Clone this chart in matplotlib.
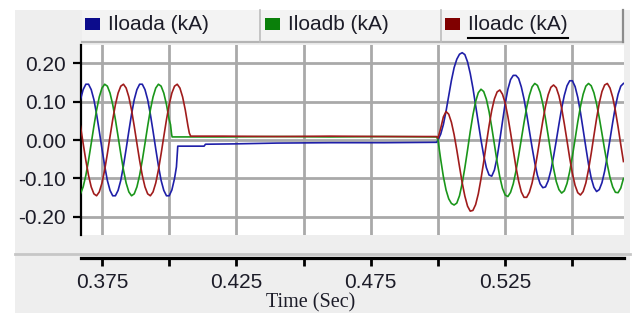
import numpy as np
import matplotlib
matplotlib.use("Agg")
import matplotlib.pyplot as plt
from matplotlib.patches import Rectangle
from matplotlib.lines import Line2D

plt.rcParams['font.family'] = ['Liberation Sans', 'DejaVu Sans']
plt.rcParams['axes.unicode_minus'] = False

# ---- data (kA) ----
series_names = ["Iloada (kA)", "Iloadb (kA)", "Iloadc (kA)"]

# before the breaker opens, 1 ms samples from 0.367 s to 0.400 s
t_pre = np.round(np.arange(0.367, 0.4005, 0.001), 3)
ia_pre = [0.105, 0.131, 0.145, 0.145, 0.131, 0.105, 0.067, 0.023, -0.023, -0.067,
          -0.105, -0.131, -0.145, -0.145, -0.131, -0.105, -0.067, -0.023, 0.023, 0.067,
          0.105, 0.131, 0.145, 0.145, 0.131, 0.105, 0.067, 0.023, -0.023, -0.067,
          -0.105, -0.131, -0.145, -0.145]
ib_pre = [-0.140, -0.122, -0.092, -0.053, -0.009, 0.036, 0.078, 0.112, 0.135, 0.145,
          0.140, 0.122, 0.092, 0.053, 0.009, -0.036, -0.078, -0.112, -0.135, -0.145,
          -0.140, -0.122, -0.092, -0.053, -0.009, 0.036, 0.078, 0.112, 0.135, 0.145,
          0.140, 0.122, 0.092, 0.053]
ic_pre = [0.036, -0.009, -0.053, -0.092, -0.122, -0.140, -0.145, -0.135, -0.112, -0.078,
          -0.036, 0.009, 0.053, 0.092, 0.122, 0.140, 0.145, 0.135, 0.112, 0.078,
          0.036, -0.009, -0.053, -0.092, -0.122, -0.140, -0.145, -0.135, -0.112, -0.078,
          -0.036, 0.009, 0.053, 0.092]

# open period
ia_mid_t = [0.401, 0.402, 0.4027, 0.4032, 0.4130, 0.4135, 0.425, 0.440, 0.460, 0.480, 0.4995]
ia_mid = [-0.130, -0.100, -0.070, -0.016, -0.016, -0.011, -0.010, -0.008, -0.007, -0.007, -0.006]
ib_mid_t = [0.4005, 0.4009, 0.4011, 0.420, 0.440, 0.460, 0.480, 0.4995]
ib_mid = [0.040, 0.015, 0.008, 0.008, 0.009, 0.008, 0.009, 0.008]
ic_mid_t = [0.401, 0.402, 0.403, 0.404, 0.405, 0.406, 0.407, 0.4075, 0.408,
            0.420, 0.440, 0.460, 0.480, 0.4995]
ic_mid = [0.122, 0.140, 0.145, 0.135, 0.112, 0.078, 0.036, 0.018, 0.010,
          0.010, 0.009, 0.010, 0.009, 0.009]

# after reclosing, 1 ms samples from 0.500 s to 0.569 s
t_post = np.round(np.arange(0.500, 0.5695, 0.001), 3)
ia_post = [0.000, 0.015, 0.040, 0.075, 0.115, 0.155, 0.188, 0.210, 0.223, 0.227,
           0.222, 0.203, 0.173, 0.135, 0.090, 0.045, 0.000, -0.040, -0.072, -0.091,
           -0.094, -0.078, -0.045, 0.000, 0.048, 0.095, 0.132, 0.157, 0.168, 0.168,
           0.160, 0.138, 0.107, 0.067, 0.024, -0.019, -0.059, -0.092, -0.114, -0.124,
           -0.122, -0.106, -0.079, -0.043, -0.002, 0.041, 0.082, 0.116, 0.141, 0.154,
           0.154, 0.139, 0.111, 0.072, 0.027, -0.019, -0.063, -0.099, -0.123, -0.134,
           -0.129, -0.111, -0.081, -0.042, 0.002, 0.046, 0.087, 0.119, 0.140, 0.147]
ib_post = [0.000, -0.050, -0.095, -0.130, -0.153, -0.165, -0.169, -0.164, -0.145, -0.113,
           -0.072, -0.026, 0.022, 0.065, 0.100, 0.123, 0.132, 0.126, 0.106, 0.074,
           0.033, -0.012, -0.057, -0.096, -0.126, -0.143, -0.147, -0.136, -0.114, -0.081,
           -0.041, 0.002, 0.045, 0.085, 0.116, 0.138, 0.147, 0.142, 0.124, 0.094,
           0.055, 0.011, -0.034, -0.074, -0.108, -0.129, -0.138, -0.132, -0.113, -0.082,
           -0.042, 0.002, 0.047, 0.087, 0.119, 0.140, 0.147, 0.141, 0.123, 0.094,
           0.058, 0.017, -0.025, -0.064, -0.098, -0.122, -0.136, -0.137, -0.125, -0.100]
ic_post = [0.005, 0.030, 0.060, 0.074, 0.067, 0.046, 0.014, -0.026, -0.069, -0.111,
           -0.146, -0.172, -0.185, -0.183, -0.168, -0.140, -0.101, -0.057, -0.009, 0.037,
           0.077, 0.107, 0.125, 0.130, 0.119, 0.096, 0.061, 0.019, -0.026, -0.070,
           -0.107, -0.135, -0.149, -0.149, -0.136, -0.112, -0.078, -0.037, 0.007, 0.050,
           0.088, 0.118, 0.137, 0.143, 0.136, 0.115, 0.083, 0.042, -0.002, -0.047,
           -0.087, -0.118, -0.137, -0.143, -0.134, -0.112, -0.077, -0.035, 0.011, 0.056,
           0.096, 0.126, 0.143, 0.147, 0.135, 0.111, 0.076, 0.034, -0.012, -0.056]

y_ticks = [-0.20, -0.10, 0.00, 0.10, 0.20]
y_tick_labels = ["-0.20", "-0.10", "0.00", "0.10", "0.20"]
x_ticks = [0.375, 0.400, 0.425, 0.450, 0.475, 0.500, 0.525, 0.550]
x_tick_labels = ["0.375", "", "0.425", "", "0.475", "", "0.525", ""]

# ---- layout helpers (pixel -> figure fraction, y measured from top) ----
W, H = 635, 313
def fx(px):
    return px / W
def fy(py):
    return 1 - py / H

line_colors = ['#1f1fa8', '#1a961a', '#a01c1c']
key_colors = ['#0c0c8c', '#0a800a', '#800000']
text_color = '#1c1c28'

fig = plt.figure(figsize=(W / 100, H / 100), dpi=100)
fig.patch.set_facecolor('white')

# gray panel behind everything
fig.add_artist(Rectangle((fx(15), 0), fx(630) - fx(15), fy(10), transform=fig.transFigure,
                         facecolor='#eeeeee', edgecolor='none', zorder=-10))

ax = fig.add_axes([fx(81), fy(235), fx(624) - fx(81), fy(45) - fy(235)])
ax.set_facecolor('white')

t_a = np.concatenate([t_pre, ia_mid_t, t_post])
t_b = np.concatenate([t_pre, ib_mid_t, t_post])
t_c = np.concatenate([t_pre, ic_mid_t, t_post])
v_a = np.concatenate([ia_pre, ia_mid, ia_post])
v_b = np.concatenate([ib_pre, ib_mid, ib_post])
v_c = np.concatenate([ic_pre, ic_mid, ic_post])

for t, v, c, name in zip([t_a, t_b, t_c], [v_a, v_b, v_c], line_colors, series_names):
    ax.plot(t, v, color=c, lw=1.2, label=name, zorder=3)

ax.set_xlim(0.3672, 0.5692)
ax.set_ylim(-0.247, 0.247)
ax.set_xticks(x_ticks)
ax.set_xticklabels(x_tick_labels)
ax.set_yticks(y_ticks)
ax.set_yticklabels(y_tick_labels)
ax.grid(True, color='#a9a9a9', lw=2.0)
ax.set_axisbelow(True)

for s in ['top', 'right']:
    ax.spines[s].set_visible(False)
ax.spines['left'].set_linewidth(1.6)
ax.spines['bottom'].set_position(('outward', 16.5))
ax.spines['bottom'].set_linewidth(2.3)
ax.tick_params(axis='y', direction='out', length=5.8, width=1.6, pad=5,
               labelsize=15, labelcolor=text_color)
ax.tick_params(axis='x', direction='out', length=5.8, width=2.0, pad=5,
               labelsize=15, labelcolor=text_color)

# shadow line between plot and time axis
fig.add_artist(Line2D([fx(15), fx(630)], [fy(254), fy(254)], transform=fig.transFigure,
                      color='#c6c6c6', lw=2.0, zorder=-5))

# legend band
fig.add_artist(Rectangle((fx(82), fy(42)), fx(623) - fx(82), fy(10) - fy(42),
                         transform=fig.transFigure, facecolor='#f3f3f3',
                         edgecolor='none', zorder=-4))
fig.add_artist(Line2D([fx(82), fx(623)], [fy(42), fy(42)], transform=fig.transFigure,
                      color='#b4b4b4', lw=1.6))
fig.add_artist(Line2D([fx(623), fx(623)], [fy(10), fy(42)], transform=fig.transFigure,
                      color='#8c8c8c', lw=1.6))
for xd in [260, 441]:
    fig.add_artist(Line2D([fx(xd), fx(xd)], [fy(10), fy(42)], transform=fig.transFigure,
                          color='#bcbcbc', lw=1.2))

cell_x = [82, 262, 442]
legend_texts = []
for x0, name, kc in zip(cell_x, series_names, key_colors):
    fig.add_artist(Rectangle((fx(x0 + 3), fy(30)), fx(15), fy(18) - fy(30),
                             transform=fig.transFigure, facecolor=kc, edgecolor='none'))
    legend_texts.append(fig.text(fx(x0 + 26), fy(25), name, fontsize=15, color=text_color,
                                 ha='left', va='center'))

# underline on the last legend entry
fig.canvas.draw()
bb = legend_texts[-1].get_window_extent()
fig.add_artist(Line2D([fx(bb.x0), fx(bb.x1)], [fy(38), fy(38)], transform=fig.transFigure,
                      color='black', lw=1.5))

fig.text(fx(311), fy(307.5), "Time (Sec)", family=['Liberation Serif', 'DejaVu Serif'],
         fontsize=14.5, color=text_color, ha='center', va='baseline')

fig.savefig("out.png", dpi=100)
